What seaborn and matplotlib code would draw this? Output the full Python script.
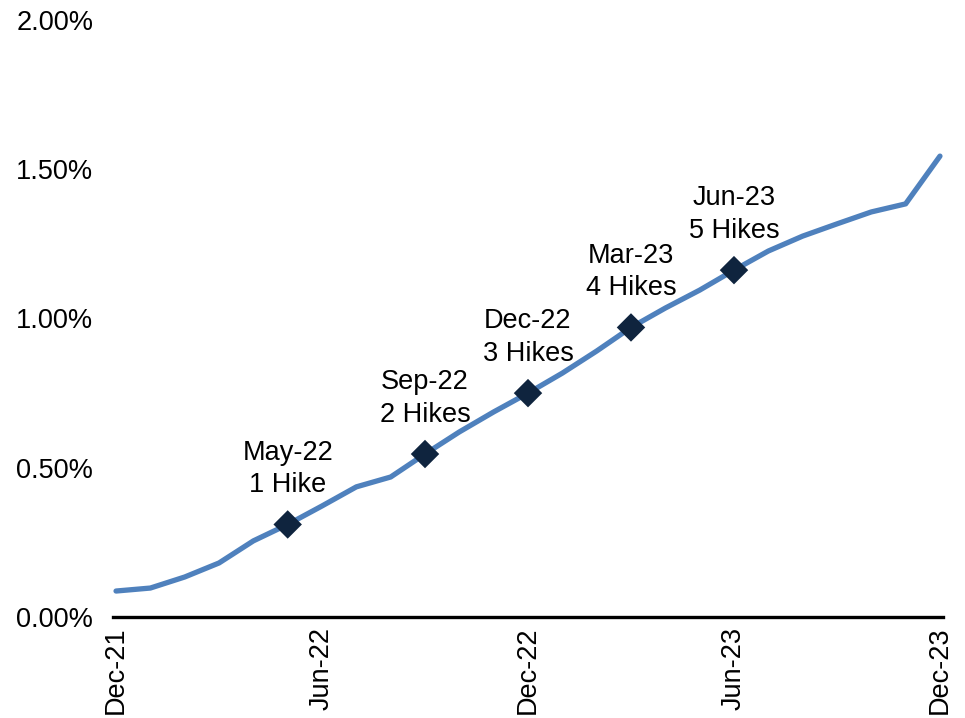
import matplotlib
matplotlib.use("Agg")
import matplotlib.pyplot as plt
import seaborn as sns
import pandas as pd
from matplotlib.ticker import FuncFormatter

# Monthly series, Dec-21 through Dec-23 (percent)
months = ["Dec-21", "Jan-22", "Feb-22", "Mar-22", "Apr-22", "May-22", "Jun-22",
          "Jul-22", "Aug-22", "Sep-22", "Oct-22", "Nov-22", "Dec-22",
          "Jan-23", "Feb-23", "Mar-23", "Apr-23", "May-23", "Jun-23",
          "Jul-23", "Aug-23", "Sep-23", "Oct-23", "Nov-23", "Dec-23"]
rate = [0.087, 0.097, 0.134, 0.181, 0.255, 0.310, 0.372,
        0.436, 0.469, 0.546, 0.620, 0.687, 0.750,
        0.817, 0.891, 0.970, 1.035, 1.095, 1.162,
        1.226, 1.276, 1.317, 1.357, 1.384, 1.544]

# Rate-hike milestones
hike_months = ["May-22", "Sep-22", "Dec-22", "Mar-23", "Jun-23"]
hike_labels = ["May-22\n1 Hike", "Sep-22\n2 Hikes", "Dec-22\n3 Hikes",
               "Mar-23\n4 Hikes", "Jun-23\n5 Hikes"]

tick_labels = ["Dec-21", "Jun-22", "Dec-22", "Jun-23", "Dec-23"]

df = pd.DataFrame({"month": months, "rate": rate})
df["idx"] = range(len(df))
hikes = df[df["month"].isin(hike_months)].copy()

sns.set_theme(style="white")
plt.rcParams["font.family"] = ["Liberation Sans", "DejaVu Sans"]

fig = plt.figure(figsize=(9.65, 7.18), dpi=100)
ax = fig.add_axes([112.6 / 965, 101 / 718, (943.4 - 112.6) / 965, 597 / 718])

sns.lineplot(data=df, x="idx", y="rate", ax=ax, color="#4F81BD",
             linewidth=3.8, solid_capstyle="round", zorder=2)
sns.scatterplot(data=hikes, x="idx", y="rate", ax=ax, marker="D", s=210,
                color="#0F243E", edgecolor="none", zorder=3)

for (_, row), label in zip(hikes.iterrows(), hike_labels):
    ax.annotate(label, (row["idx"], row["rate"]), xytext=(0, 40),
                textcoords="offset points", ha="center", va="center",
                fontsize=19.5, color="black", linespacing=1.32)

ax.set_xlim(-0.1, 24.1)
ax.set_ylim(0, 2.0)
ax.set_yticks([0, 0.5, 1.0, 1.5, 2.0])
ax.yaxis.set_major_formatter(FuncFormatter(lambda v, _: f"{v:.2f}%"))
tick_pos = [months.index(m) for m in tick_labels]
ax.set_xticks(tick_pos)
ax.set_xticklabels(tick_labels, rotation=90)
ax.tick_params(axis="both", length=0, labelsize=19.5, colors="black")
ax.tick_params(axis="y", pad=14)
ax.tick_params(axis="x", pad=7)
ax.set_xlabel("")
ax.set_ylabel("")

for side in ["left", "top", "right"]:
    ax.spines[side].set_visible(False)
ax.spines["bottom"].set_color("black")
ax.spines["bottom"].set_linewidth(2.4)
ax.grid(False)

fig.savefig("out.png", dpi=100)
